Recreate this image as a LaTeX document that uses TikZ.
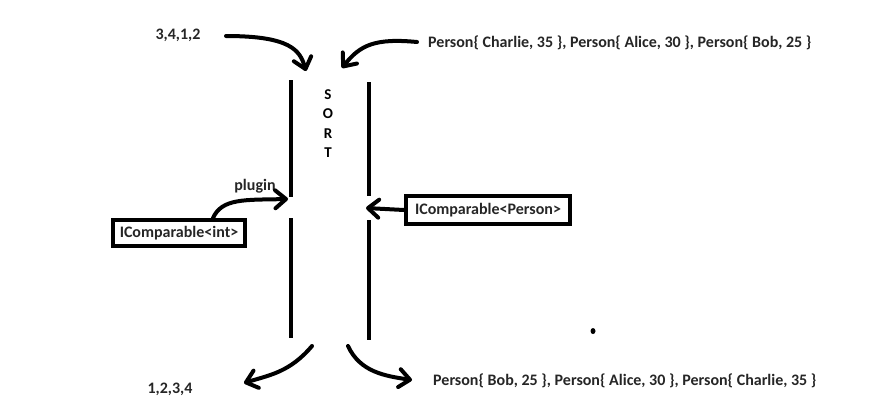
\documentclass[tikz,border=0pt]{standalone}
\usepackage{fontspec}
\setmainfont{Carlito}
\usetikzlibrary{arrows.meta}
\begin{document}
\begin{tikzpicture}[x=1pt,y=-1pt,
  lbl/.style={font=\bfseries\fontsize{16}{18}\selectfont, inner sep=0pt, text=black!85},
  sortlbl/.style={font=\bfseries\fontsize{15}{17}\selectfont, inner sep=0pt, text=black},
  thick line/.style={line width=4pt},
  pen/.style={line width=4pt, line cap=round, -{Straight Barb[angle=80:10pt 1, line cap=round, line join=round]}},
  ibox/.style={draw, line width=4pt, font=\bfseries\fontsize{16}{18}\selectfont, inner sep=0pt, text=black!85}]
\useasboundingbox[fill=white] (0,0) rectangle (870,416);
% labels
\node[lbl] (in1) at (178,35) {3,4,1,2};
\node[lbl, anchor=west] (in2) at (428,43) {Person\{ Charlie, 35 \}, Person\{ Alice, 30 \}, Person\{ Bob, 25 \}};
\node[lbl] (out1) at (170,389) {1,2,3,4};
\node[lbl, anchor=west] (out2) at (433,381) {Person\{ Bob, 25 \}, Person\{ Alice, 30 \}, Person\{ Charlie, 35 \}};
\node[lbl] (plug) at (255,186) {plugin};
% SORT
\node[sortlbl] (s) at (328,95) {S};
\node[sortlbl] (o) at (328,114) {O};
\node[sortlbl] (r) at (328,134) {R};
\node[sortlbl] (t) at (328,153) {T};
% walls
\coordinate (l1a) at (291,80); \coordinate (l1b) at (291,197);
\coordinate (l2a) at (291,218); \coordinate (l2b) at (291,338);
\coordinate (r1a) at (369,82); \coordinate (r1b) at (369,196);
\coordinate (r2a) at (369,220); \coordinate (r2b) at (369,340);
\draw[thick line] (l1a) -- (l1b);
\draw[thick line] (l2a) -- (l2b);
\draw[thick line] (r1a) -- (r1b);
\draw[thick line] (r2a) -- (r2b);
% boxes
\node[ibox, minimum width=132pt, minimum height=26pt] (bint) at (179,233) {IComparable<int>};
\node[ibox, minimum width=164pt, minimum height=28pt] (bper) at (488,210) {IComparable<Person>};
% arrow coordinates
\coordinate (a1s) at (226,36); \coordinate (a1e) at (306,71);
\coordinate (a2s) at (417,42); \coordinate (a2e) at (342,68);
\coordinate (pe) at (288,199);
\coordinate (be) at (366,208);
\coordinate (d1s) at (312,346); \coordinate (d1e) at (244,383);
\coordinate (d2s) at (348,346); \coordinate (d2e) at (412,380);
\draw[pen] (a1s) .. controls (290,36) and (300,50) .. (a1e);
\draw[pen] (a2s) .. controls (375,38) and (360,45) .. (a2e);
\draw[pen] ([xshift=34pt]bint.north) .. controls (222,198) and (245,200) .. (pe);
\draw[pen] (bper.west) -- (be);
\draw[pen] (d1s) .. controls (290,372) and (270,375) .. (d1e);
\draw[pen] (d2s) .. controls (360,372) and (385,376) .. (d2e);
% dot
\fill (593,331) ellipse (2.5pt and 3pt);
\end{tikzpicture}
\end{document}
